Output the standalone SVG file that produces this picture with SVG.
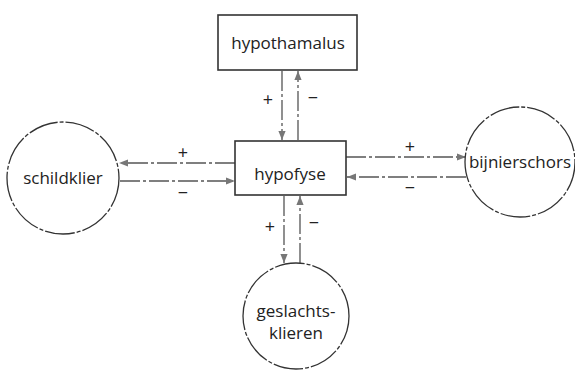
<svg xmlns="http://www.w3.org/2000/svg" width="575" height="370" viewBox="0 0 575 370">
<style>
.box{fill:#fff;stroke:#333;stroke-width:1.6}
.circ{fill:#fff;stroke:#333;stroke-width:1.3;stroke-dasharray:30 2 4 2}
.lbl{font-family:"Open Sans","DejaVu Sans",sans-serif;font-size:17px;fill:#222;text-anchor:middle}
.sign{font-family:"Open Sans","DejaVu Sans",sans-serif;font-size:18px;fill:#222;text-anchor:middle}
.conn{stroke:#555;stroke-width:1.3;fill:none;stroke-dasharray:20 3 3 3;marker-end:url(#ah)}
</style>
<defs>
<marker id="ah" viewBox="0 0 10 10" refX="10" refY="5" markerWidth="9" markerHeight="9" markerUnits="userSpaceOnUse" orient="auto">
<path d="M0,1 L10,5 L0,9 Z" fill="#777"/>
</marker>
</defs>
<rect width="575" height="370" fill="#fff"/>
<g id="connectors">
<line class="conn" x1="282" y1="71" x2="282" y2="140"/>
<line class="conn" x1="298" y1="140" x2="298" y2="71"/>
<line class="conn" x1="235" y1="163" x2="119" y2="163"/>
<line class="conn" x1="120" y1="181" x2="235" y2="181"/>
<line class="conn" x1="346" y1="157" x2="466" y2="157"/>
<line class="conn" x1="466" y1="177" x2="347" y2="177"/>
<line class="conn" x1="284" y1="196" x2="284" y2="263"/>
<line class="conn" x1="300" y1="263" x2="300" y2="196"/>
<text class="sign" x="268" y="106">+</text>
<text class="sign" x="313" y="104">−</text>
<text class="sign" x="183" y="159">+</text>
<text class="sign" x="183" y="199">−</text>
<text class="sign" x="410" y="153">+</text>
<text class="sign" x="410" y="194">−</text>
<text class="sign" x="270" y="233">+</text>
<text class="sign" x="314" y="229">−</text>
</g>
<g id="hypothamalus">
<rect class="box" x="218" y="15" width="139" height="55"/>
<text class="lbl" x="288" y="49">hypothamalus</text>
</g>
<g id="hypofyse">
<rect class="box" x="235" y="141" width="111" height="54"/>
<text class="lbl" x="290" y="180">hypofyse</text>
</g>
<g id="schildklier">
<circle class="circ" cx="63" cy="178" r="56"/>
<text class="lbl" x="63" y="184">schildklier</text>
</g>
<g id="bijnierschors">
<circle class="circ" cx="520" cy="162" r="55"/>
<text class="lbl" x="520" y="168">bijnierschors</text>
</g>
<g id="geslachtsklieren">
<circle class="circ" cx="296" cy="316" r="53"/>
<text class="lbl" x="296" y="317">geslachts-</text>
<text class="lbl" x="296" y="339">klieren</text>
</g>
</svg>
